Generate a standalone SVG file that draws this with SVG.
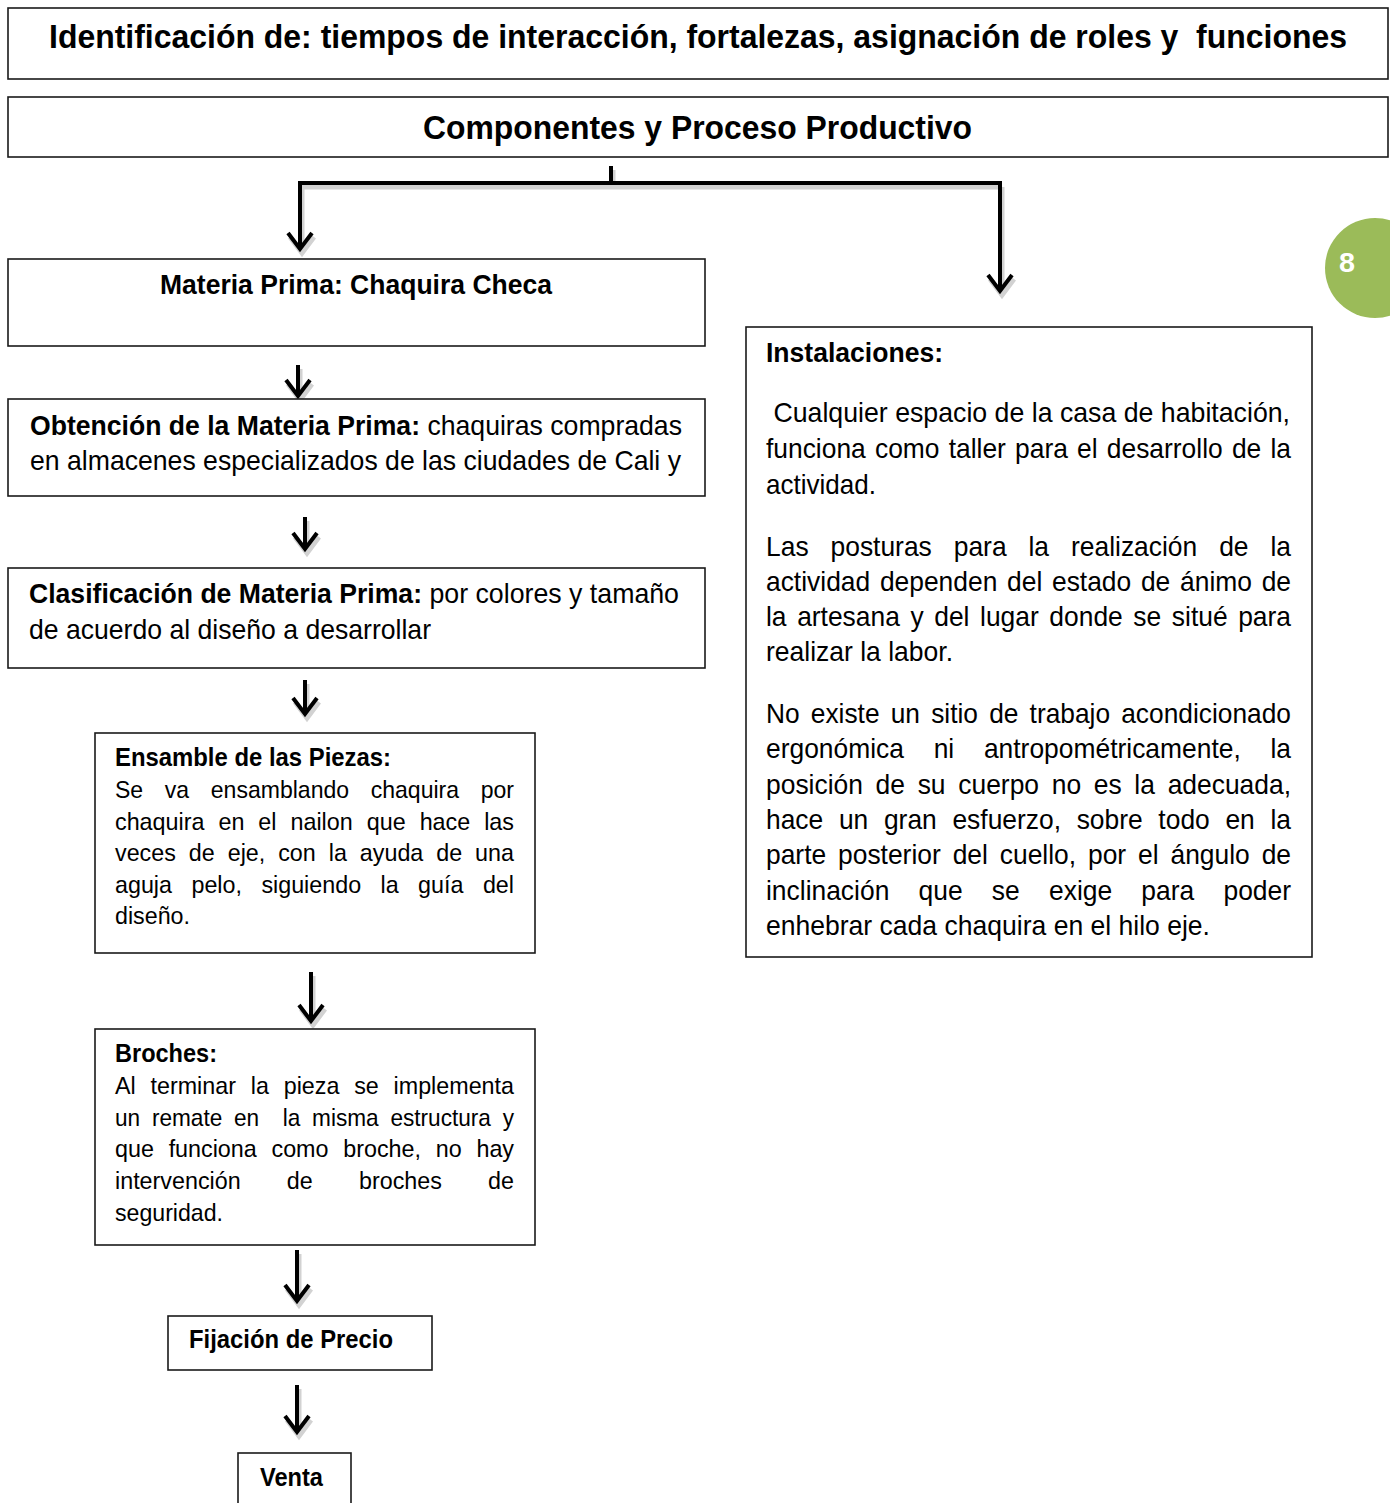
<svg xmlns="http://www.w3.org/2000/svg" width="1390" height="1503" viewBox="0 0 1390 1503">
<style>
.box{fill:#fff;stroke:#1a1a1a;stroke-width:1.6}
text{font-family:"Liberation Sans",Arial,sans-serif;fill:#000}
.pre{white-space:pre}
.h1{font-size:32.5px;font-weight:bold}
.b{font-size:28.2px;font-weight:bold}
.bs{font-size:25px;font-weight:bold}
.m{font-size:28.3px}
.s{font-size:24.8px}
.r{font-size:28.1px}
.tb{font-weight:bold}
.ln{fill:none;stroke:#000;stroke-width:4;stroke-linejoin:miter}
.sh{fill:none;stroke:#d2d2d2;stroke-width:5}
</style>
<defs>
<g id="ah"><path d="M-12,-16 L0,0 L12,-16" class="ln"/></g>
<g id="ahs"><path d="M-12,-16 L0,0 L12,-16" class="sh"/></g>
</defs>

<g id="n-title">
<rect class="box" x="8" y="8" width="1380" height="71"/>
<text class="h1 pre" x="49" y="48" textLength="1298" lengthAdjust="spacingAndGlyphs">Identificación de: tiempos de interacción, fortalezas, asignación de roles y  funciones</text>
</g>

<g id="n-componentes">
<rect class="box" x="8" y="97" width="1380" height="60"/>
<text class="h1" x="423" y="139" textLength="549" lengthAdjust="spacingAndGlyphs">Componentes y Proceso Productivo</text>
</g>

<g id="n-badge">
<circle cx="1375" cy="268" r="50" fill="#9bbb59"/>
<text x="1339" y="272" font-size="28" font-weight="bold" textLength="16" lengthAdjust="spacingAndGlyphs" style="fill:#fff">8</text>
</g>

<g id="connectors">
<g transform="translate(2,4)">
<path class="sh" d="M611,166 V183 M300,183 H1000 M300,183 V249 M1000,183 V291"/>
<use href="#ahs" x="300" y="249"/>
<use href="#ahs" x="1000" y="291"/>
<path class="sh" d="M298,365 V396 M305,517 V549 M305,680 V714 M311,972 V1021 M297,1250 V1301 M297,1385 V1432"/>
<use href="#ahs" x="298" y="396"/>
<use href="#ahs" x="305" y="549"/>
<use href="#ahs" x="305" y="714"/>
<use href="#ahs" x="311" y="1021"/>
<use href="#ahs" x="297" y="1301"/>
<use href="#ahs" x="297" y="1432"/>
</g>
<path class="ln" d="M611,166 V183 M298,183 H1002 M300,181 V249 M1000,181 V291"/>
<use href="#ah" x="300" y="249"/>
<use href="#ah" x="1000" y="291"/>
<path class="ln" d="M298,365 V396 M305,517 V549 M305,680 V714 M311,972 V1021 M297,1250 V1301 M297,1385 V1432"/>
<use href="#ah" x="298" y="396"/>
<use href="#ah" x="305" y="549"/>
<use href="#ah" x="305" y="714"/>
<use href="#ah" x="311" y="1021"/>
<use href="#ah" x="297" y="1301"/>
<use href="#ah" x="297" y="1432"/>
</g>

<g id="n-materia">
<rect class="box" x="8" y="259" width="697" height="87"/>
<text class="b" x="160" y="294" textLength="392" lengthAdjust="spacingAndGlyphs">Materia Prima: Chaquira Checa</text>
</g>

<g id="n-obtencion">
<rect class="box" x="8" y="399" width="697" height="97"/>
<text class="m tb" x="30" y="435" textLength="390" lengthAdjust="spacingAndGlyphs">Obtención de la Materia Prima:</text>
<text class="m pre" x="420" y="435" textLength="262" lengthAdjust="spacingAndGlyphs"> chaquiras compradas</text>
<text class="m" x="30" y="470" textLength="651" lengthAdjust="spacingAndGlyphs">en almacenes especializados de las ciudades de Cali y</text>
</g>

<g id="n-clasificacion">
<rect class="box" x="8" y="568" width="697" height="100"/>
<text class="m tb" x="29" y="603" textLength="393" lengthAdjust="spacingAndGlyphs">Clasificación de Materia Prima:</text>
<text class="m pre" x="422" y="603" textLength="257" lengthAdjust="spacingAndGlyphs"> por colores y tamaño</text>
<text class="m" x="29" y="639" textLength="402" lengthAdjust="spacingAndGlyphs">de acuerdo al diseño a desarrollar</text>
</g>

<g id="n-ensamble">
<rect class="box" x="95" y="733" width="440" height="220"/>
<text class="bs" x="115" y="766" textLength="276" lengthAdjust="spacingAndGlyphs">Ensamble de las Piezas:</text>
<text class="s" x="115" y="798" word-spacing="16.4" textLength="399" lengthAdjust="spacingAndGlyphs">Se va ensamblando chaquira por</text>
<text class="s" x="115" y="830" word-spacing="8" textLength="399" lengthAdjust="spacingAndGlyphs">chaquira en el nailon que hace las</text>
<text class="s" x="115" y="861" word-spacing="6.9" textLength="399" lengthAdjust="spacingAndGlyphs">veces de eje, con la ayuda de una</text>
<text class="s" x="115" y="893" word-spacing="13.8" textLength="399" lengthAdjust="spacingAndGlyphs">aguja pelo, siguiendo la guía del</text>
<text class="s" x="115" y="924" textLength="75" lengthAdjust="spacingAndGlyphs">diseño.</text>
</g>

<g id="n-broches">
<rect class="box" x="95" y="1029" width="440" height="216"/>
<text class="bs" x="115" y="1062" textLength="102" lengthAdjust="spacingAndGlyphs">Broches:</text>
<text class="s" x="115" y="1094" word-spacing="8.85" textLength="399" lengthAdjust="spacingAndGlyphs">Al terminar la pieza se implementa</text>
<text class="s pre" x="115" y="1126" word-spacing="6" textLength="399" lengthAdjust="spacingAndGlyphs">un remate en  la misma estructura y</text>
<text class="s" x="115" y="1157" word-spacing="8.8" textLength="399" lengthAdjust="spacingAndGlyphs">que funciona como broche, no hay</text>
<text class="s" x="115" y="1189" word-spacing="42.3" textLength="399" lengthAdjust="spacingAndGlyphs">intervención de broches de</text>
<text class="s" x="115" y="1221" textLength="108" lengthAdjust="spacingAndGlyphs">seguridad.</text>
</g>

<g id="n-fijacion">
<rect class="box" x="168" y="1316" width="264" height="54"/>
<text class="bs" x="189" y="1348" textLength="204" lengthAdjust="spacingAndGlyphs">Fijación de Precio</text>
</g>

<g id="n-venta">
<rect class="box" x="238" y="1453" width="113" height="60"/>
<text class="bs" x="260" y="1486" textLength="63" lengthAdjust="spacingAndGlyphs">Venta</text>
</g>

<g id="n-instalaciones">
<rect class="box" x="746" y="327" width="566" height="630"/>
<text class="r tb" x="766" y="362" textLength="177" lengthAdjust="spacingAndGlyphs">Instalaciones:</text>
<text class="r pre" x="766" y="422" textLength="524" lengthAdjust="spacingAndGlyphs"> Cualquier espacio de la casa de habitación,</text>
<text class="r" x="766" y="458" word-spacing="2" textLength="525" lengthAdjust="spacingAndGlyphs">funciona como taller para el desarrollo de la</text>
<text class="r" x="766" y="494" textLength="110" lengthAdjust="spacingAndGlyphs">actividad.</text>
<text class="r" x="766" y="556" word-spacing="15.5" textLength="525" lengthAdjust="spacingAndGlyphs">Las posturas para la realización de la</text>
<text class="r" x="766" y="591" word-spacing="2.55" textLength="525" lengthAdjust="spacingAndGlyphs">actividad dependen del estado de ánimo de</text>
<text class="r" x="766" y="626" word-spacing="3.5" textLength="525" lengthAdjust="spacingAndGlyphs">la artesana y del lugar donde se situé para</text>
<text class="r" x="766" y="661" textLength="187" lengthAdjust="spacingAndGlyphs">realizar la labor.</text>
<text class="r" x="766" y="723" word-spacing="4.1" textLength="525" lengthAdjust="spacingAndGlyphs">No existe un sitio de trabajo acondicionado</text>
<text class="r" x="766" y="758" word-spacing="23.8" textLength="525" lengthAdjust="spacingAndGlyphs">ergonómica ni antropométricamente, la</text>
<text class="r" x="766" y="794" word-spacing="5.7" textLength="525" lengthAdjust="spacingAndGlyphs">posición de su cuerpo no es la adecuada,</text>
<text class="r" x="766" y="829" word-spacing="8.9" textLength="525" lengthAdjust="spacingAndGlyphs">hace un gran esfuerzo, sobre todo en la</text>
<text class="r" x="766" y="864" word-spacing="4.9" textLength="525" lengthAdjust="spacingAndGlyphs">parte posterior del cuello, por el ángulo de</text>
<text class="r" x="766" y="900" word-spacing="23.3" textLength="525" lengthAdjust="spacingAndGlyphs">inclinación que se exige para poder</text>
<text class="r" x="766" y="935" textLength="444" lengthAdjust="spacingAndGlyphs">enhebrar cada chaquira en el hilo eje.</text>
</g>
</svg>
